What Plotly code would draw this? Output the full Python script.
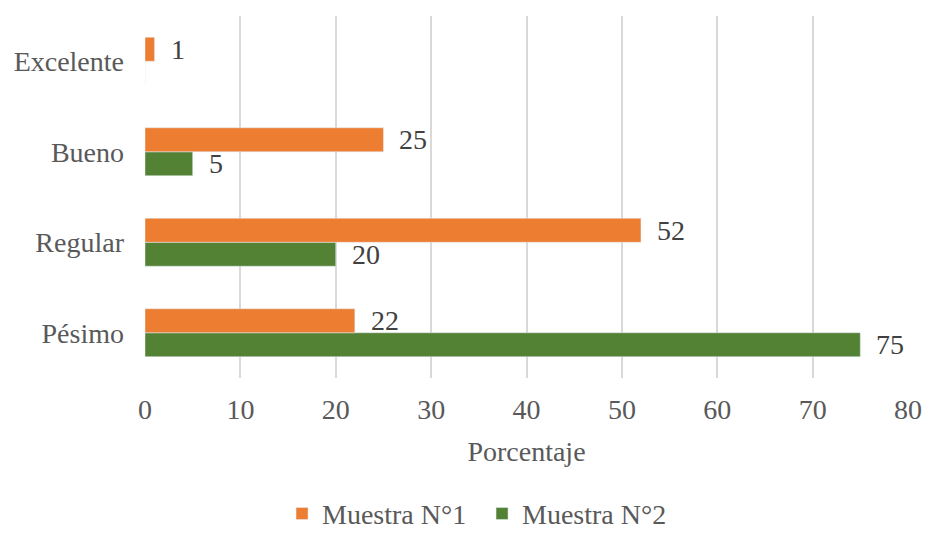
import plotly.graph_objects as go

categorias = ["Pésimo", "Regular", "Bueno", "Excelente"]
muestra_1 = [22, 52, 25, 1]
muestra_2 = [75, 20, 5, 0]
ticks_x = [0, 10, 20, 30, 40, 50, 60, 70, 80]

NARANJA = "#ED7D31"
VERDE = "#548235"
TEXTO = "#595959"
FUENTE = "Liberation Serif"
TAM = 28

fig = go.Figure()
# Muestra N°2 goes first so that it sits below Muestra N°1 in each group
fig.add_trace(go.Bar(name="Muestra N°2", y=categorias, x=muestra_2,
                     orientation="h", marker_color=VERDE))
fig.add_trace(go.Bar(name="Muestra N°1", y=categorias, x=muestra_1,
                     orientation="h", marker_color=NARANJA))

# value labels to the right of each bar
anotaciones = []
for serie, desplaz in ((muestra_1, 12), (muestra_2, -12)):
    for cat, v in zip(categorias, serie):
        if v == 0:
            continue
        anotaciones.append(dict(
            x=v, y=cat, text=str(v), showarrow=False,
            xanchor="left", yanchor="middle", xshift=14, yshift=desplaz,
            font=dict(family=FUENTE, size=TAM, color="#404040")))

fig.update_layout(
    width=927, height=533,
    margin=dict(l=145, r=19, t=16, b=155, autoexpand=False),
    paper_bgcolor="white", plot_bgcolor="white",
    barmode="group", bargap=0.47, bargroupgap=0,
    font=dict(family=FUENTE, size=TAM, color=TEXTO),
    annotations=anotaciones,
    showlegend=True,
    legend=dict(orientation="h", traceorder="reversed",
                x=0.52, xanchor="center", xref="container",
                y=0.036, yanchor="middle", yref="container",
                font=dict(family=FUENTE, size=TAM, color=TEXTO),
                itemwidth=30, entrywidth=155, entrywidthmode="pixels"),
    xaxis=dict(range=[0, 80], tickvals=ticks_x, showgrid=True,
               gridcolor="#D9D9D9", gridwidth=1.5, zeroline=False,
               showline=False, ticks="", ticklabelstandoff=12,
               automargin=False,
               title=dict(text="Porcentaje", standoff=17,
                          font=dict(family=FUENTE, size=TAM, color=TEXTO))),
    yaxis=dict(categoryorder="array", categoryarray=categorias,
               range=[-0.5, 3.5], showgrid=False, zeroline=False,
               showline=False, ticks="", ticklabelstandoff=20,
               automargin=False),
)

fig.write_html("out.html")
